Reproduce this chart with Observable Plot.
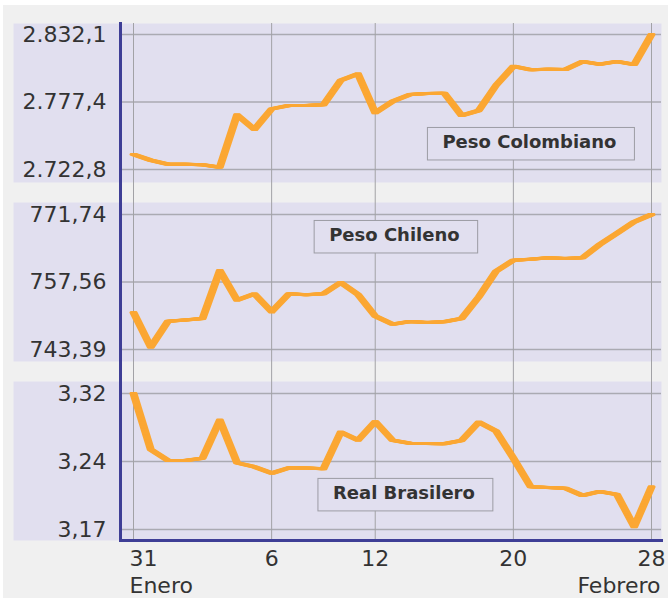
<!DOCTYPE html>
<html><head><meta charset="utf-8">
<script src="https://cdn.jsdelivr.net/npm/d3@7"></script>
<script src="https://cdn.jsdelivr.net/npm/@observablehq/plot@0.6"></script>
<style>
html,body{margin:0;padding:0;background:#fff;}
#chart{position:absolute;left:3px;top:5px;width:665px;height:593px;background:#f0f0f0;overflow:hidden;}
#chart svg{display:block;}
</style></head><body><div id="chart"></div>
<script>
// ---- data ----
const sesiones = d3.range(31); // trading-day index, 31 Enero ... 28 Febrero
const xTicks = [0, 8, 14, 22, 30];
const xTickLabels = ["31", "6", "12", "20", "28"];
const monthLabels = [{i: 0, text: "Enero"}, {i: 30, text: "Febrero"}];

const pesoColombiano = [2735.0, 2730.3, 2727.1, 2727.1, 2726.6, 2724.7, 2767.1, 2755.2, 2771.9, 2774.6,
  2774.6, 2775.2, 2794.9, 2800.3, 2768.7, 2777.9, 2783.5, 2784.3, 2784.6, 2766.5,
  2770.6, 2791.0, 2806.4, 2803.5, 2804.0, 2803.7, 2810.2, 2808.1, 2810.2, 2807.8, 2832.1];
const pesoChileno = [751.16, 743.88, 749.34, 749.6, 749.9, 759.98, 753.75, 755.08, 751.3, 755.1,
  754.9, 755.1, 757.46, 754.94, 750.39, 748.7, 749.27, 749.06, 749.2, 749.9,
  754.45, 759.84, 762.15, 762.36, 762.64, 762.5, 762.64, 765.44, 767.82, 770.2, 771.74];
const realBrasilero = [3.32, 3.2582, 3.2461, 3.2461, 3.2487, 3.2906, 3.2435, 3.2391, 3.2321, 3.238,
  3.2377, 3.2369, 3.2774, 3.2685, 3.2891, 3.2685, 3.2652, 3.2649, 3.2645, 3.2682,
  3.2884, 3.2785, 3.2487, 3.2171, 3.2163, 3.2156, 3.2075, 3.2119, 3.2086, 3.173, 3.2171];

const colTicks = [2722.8, 2777.45, 2832.1];
const colTickLabels = ["2.722,8", "2.777,4", "2.832,1"];
const chiTicks = [743.39, 757.565, 771.74];
const chiTickLabels = ["743,39", "757,56", "771,74"];
const braTicks = [3.17, 3.245, 3.32];
const braTickLabels = ["3,17", "3,24", "3,32"];

const colLabel = {i: 22.93, v: 2744.9, text: "Peso Colombiano"};
const chiLabel = {i: 15.11, v: 767.39, text: "Peso Chileno"};
const braLabel = {i: 15.66, v: 3.2101, text: "Real Brasilero"};

// ---- style ----
const LAV = "#e1dfef", BLUE = "#3e3e96", ORANGE = "#fba733", INK = "#333";
const FONT = "DejaVu Sans, Verdana, sans-serif";
const nib = [-2.5, -1.5, -0.5, 0.5, 1.5, 2.5];

function panel(cfg) {
  const data = sesiones.map((i) => ({i, v: cfg.values[i]}));
  const marks = [
    Plot.frame({fill: LAV, stroke: null, insetLeft: -107, insetBottom: cfg.gapBelow}),
    Plot.gridY(cfg.ticks, {stroke: "#aaaab2", strokeOpacity: 1, strokeWidth: 1.5}),
    Plot.gridX(xTicks, {stroke: "#a2a2a6", strokeOpacity: 1, strokeWidth: 1}),
    ...nib.map((dx) => Plot.line(data, {x: "i", y: "v", stroke: ORANGE, strokeWidth: 3, dx})),
    Plot.text([cfg.label], {x: "i", y: "v", text: "text", fontSize: 18, fontWeight: "bold", fill: INK}),
    Plot.axisY(cfg.ticks, {tickFormat: (d) => cfg.tickLabels[cfg.ticks.indexOf(d)], tickSize: 0, tickPadding: 14,
      fontSize: 22, fill: INK, label: null}),
    Plot.frame({anchor: "left", stroke: BLUE, strokeWidth: 3})
  ];
  if (cfg.xAxis) {
    marks.push(
      Plot.frame({anchor: "bottom", stroke: BLUE, strokeWidth: 3}),
      Plot.axisX(xTicks.slice(1), {tickFormat: (d) => xTickLabels[xTicks.indexOf(d)], tickSize: 0, tickPadding: 10,
        fontSize: 22, fill: INK, label: null}),
      Plot.axisX(xTicks.slice(0, 1), {tickFormat: (d) => xTickLabels[xTicks.indexOf(d)], tickSize: 0, tickPadding: 10,
        fontSize: 22, fill: INK, label: null, textAnchor: "start", dx: -4}),
      Plot.text(monthLabels.slice(0, 1), {x: "i", text: "text", frameAnchor: "bottom", lineAnchor: "top", dy: 37,
        textAnchor: "start", dx: -4, fontSize: 22, fill: INK}),
      Plot.text(monthLabels.slice(1), {x: "i", text: "text", frameAnchor: "bottom", lineAnchor: "top", dy: 37,
        textAnchor: "end", dx: 9, fontSize: 22, fill: INK})
    );
  }
  return Plot.plot({
    width: 665,
    height: cfg.height,
    marginLeft: 117,
    marginRight: 7,
    marginTop: cfg.marginTop,
    marginBottom: cfg.marginBottom,
    style: {fontFamily: FONT, fontSize: "22px", background: "transparent", color: INK},
    x: {domain: [0, 30], insetLeft: 13, insetRight: 10, axis: null, label: null},
    y: {domain: cfg.domain, insetTop: cfg.insetTop, insetBottom: cfg.insetBottom, axis: null, label: null},
    marks
  });
}

function addBoxes(svg) {
  svg.querySelectorAll('g[aria-label="text"]').forEach((g) => {
    if (g.getAttribute("font-weight") !== "bold") return;
    g.querySelectorAll("text").forEach((t) => {
      const b = t.getBBox();
      const r = document.createElementNS("http://www.w3.org/2000/svg", "rect");
      r.setAttribute("x", b.x - 15);
      r.setAttribute("y", b.y - 3.5);
      r.setAttribute("width", b.width + 33);
      r.setAttribute("height", b.height + 11.5);
      const tr = t.getAttribute("transform");
      if (tr) r.setAttribute("transform", tr);
      r.setAttribute("fill", LAV);
      r.setAttribute("stroke", "#9c9ca4");
      r.setAttribute("stroke-width", 1);
      g.insertBefore(r, t);
    });
  });
}

const chart = document.getElementById("chart");
const panels = [
  {values: pesoColombiano, ticks: colTicks, tickLabels: colTickLabels, domain: [2722.8, 2832.1], label: colLabel,
    height: 197, marginTop: 18, marginBottom: 0, insetTop: 11, insetBottom: 33, gapBelow: 20},
  {values: pesoChileno, ticks: chiTicks, tickLabels: chiTickLabels, domain: [743.39, 771.74], label: chiLabel,
    height: 179, marginTop: 0, marginBottom: 0, insetTop: 12, insetBottom: 32, gapBelow: 20},
  {values: realBrasilero, ticks: braTicks, tickLabels: braTickLabels, domain: [3.17, 3.32], label: braLabel,
    height: 217, marginTop: 0, marginBottom: 58, insetTop: 12, insetBottom: 11, gapBelow: 0, xAxis: true}
];
for (const cfg of panels) {
  const svg = panel(cfg);
  chart.appendChild(svg);
  addBoxes(svg);
}
</script></body></html>
